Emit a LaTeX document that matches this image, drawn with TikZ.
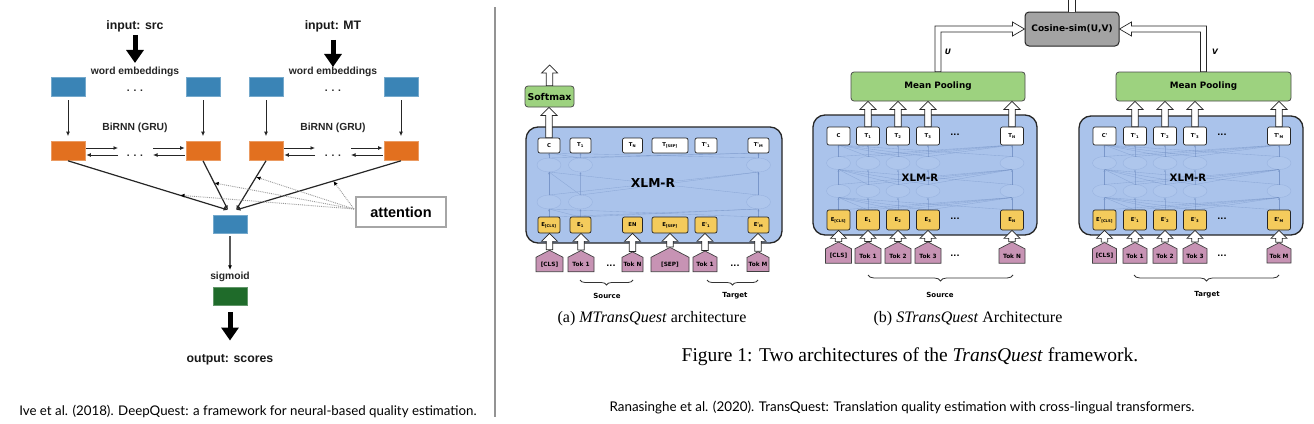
\documentclass[tikz,border=0pt]{standalone}
\usepackage{fontspec}
\setmainfont{Liberation Serif}
\newfontfamily\lsans{Liberation Sans}
\newfontfamily\dvs{DejaVu Sans}
\newfontfamily\capsans{Lato}
\usetikzlibrary{arrows.meta,shapes.symbols,decorations.pathreplacing,calc}
\definecolor{lblue}{HTML}{3A84B6}
\definecolor{lorange}{HTML}{E2701F}
\definecolor{lgreen}{HTML}{1F6B2A}
\definecolor{xblue}{HTML}{AAC3EB}
\definecolor{ygold}{HTML}{F4CB5C}
\definecolor{tpink}{HTML}{C793B4}
\definecolor{mgreen}{HTML}{9DD27F}
\definecolor{cgray}{HTML}{A3A3A3}
\definecolor{innerc}{HTML}{5F7FB8}
\definecolor{ellc}{HTML}{8AA6D6}
\definecolor{ellf}{HTML}{B3C9EE}
\newcommand\tqtiny{\dvs\bfseries\fontsize{5.3}{6}\selectfont}
\newcommand\tqtok{\dvs\bfseries\fontsize{5.8}{6}\selectfont}
\newcommand{\innernet}[8]{%
  \foreach \a in {#1} {
    \draw[ellst] (\a,#5) ellipse [x radius=12pt, y radius=#8pt];
    \draw[ellst] (\a,#6) ellipse [x radius=12pt, y radius=#8pt];
  }
  \foreach \a in {#1} {
    \foreach \ya/\yb in {#4/#5+#8, #5-#8/#6+#8, #6-#8/#7} {
      \draw[innerst,-{Latex[length=2.2pt,width=2.2pt]}] (\a,\ya) -- (\a,\yb);
      \draw[innerst] (\a,\ya) -- (#2,\yb);
      \draw[innerst] (\a,\ya) -- (#3,\yb);
    }
  }
}
\begin{document}
\begin{tikzpicture}[x=1pt,y=-1pt,
  lab/.style={font=\lsans\bfseries\fontsize{10.3}{12}\selectfont, text=black!85, inner sep=0pt},
  biglab/.style={font=\lsans\bfseries\fontsize{12.3}{14}\selectfont, text=black!90, inner sep=0pt},
  bluebox/.style={fill=lblue, draw=lblue!70!white, line width=0.6pt, minimum width=34pt, minimum height=19pt, inner sep=0pt},
  orbox/.style={bluebox, fill=lorange, draw=lorange!70!white},
  grbox/.style={bluebox, fill=lgreen, draw=lgreen!70!white, minimum height=18pt},
  sarr/.style={line width=1pt, black!85, -{Latex[length=4.5pt,width=4pt]}},
  thk/.style={line width=5pt, black, -{Triangle[length=13pt,width=17pt]}},
  datt/.style={densely dotted, gray!80, line width=0.9pt, -{Latex[length=4.5pt,width=4pt,color=black]}},
  wbox/.style={draw=black!85, fill=white, rounded corners=2pt, line width=0.7pt, inner sep=0pt, font=\tqtiny},
  ybox/.style={wbox, fill=ygold},
  tok/.style={shape=signal, signal to=north, signal from=nowhere, signal pointer angle=125,
     draw=black!75, fill=tpink, line width=0.7pt, inner sep=0pt, font=\tqtok, minimum height=19pt},
  xbox/.style={draw=black!85, fill=xblue, rounded corners=12pt, line width=1.3pt},
  gbox/.style={draw=black!70, fill=mgreen, rounded corners=3pt, line width=0.8pt, inner sep=0pt},
  innerst/.style={draw=innerc, opacity=0.4, line width=0.35pt},
  ellst/.style={draw=ellc, fill=ellf, opacity=0.55, line width=0.4pt},
  hup/.style={draw=black!85, fill=white, line width=0.7pt, line join=miter,
    to path={let \p1=(\tikztostart), \p2=(\tikztotarget) in
      (\x1-3.2pt,\y1) -- (\x1-3.2pt,\y2-8pt) -- (\x1-8pt,\y2-8pt) -- (\x1,\y2) --
      (\x1+8pt,\y2-8pt) -- (\x1+3.2pt,\y2-8pt) -- (\x1+3.2pt,\y1) -- cycle}},
  hollowst/.style={draw=black!85, fill=white, line width=0.7pt, line join=miter},
  tqlab/.style={font=\dvs\bfseries\fontsize{7}{8}\selectfont, inner sep=0pt},
  dotsl/.style={font=\dvs\bfseries\fontsize{8}{8}\selectfont, inner sep=0pt}
]
\useasboundingbox (0,0) rectangle (1314,423);
\fill[white] (0,0) rectangle (1314,423);

%% ================= Left panel (DeepQuest) =================
\node[biglab] (insrc) at (135,26) {input: src};
\node[biglab] (inmt) at (333,26) {input: MT};
\node[lab] (we1) at (135,72) {word embeddings};
\node[lab] (we2) at (333,72) {word embeddings};
\foreach \n/\x in {b1/68,b2/203,b3/266,b4/401} \node[bluebox] (\n) at (\x,86.5) {};
\node[lab] (bd1) at (135,91) {. . .};
\node[lab] (bd2) at (333,91) {. . .};
\node[lab] (gru1) at (135,128) {BiRNN (GRU)};
\node[lab] (gru2) at (333,128) {BiRNN (GRU)};
\foreach \n/\x in {o1/68,o2/203,o3/266,o4/401} \node[orbox] (\n) at (\x,151) {};
\node[lab] (od1) at (135,156) {. . .};
\node[lab] (od2) at (333,156) {. . .};

\draw[thk, shorten <=3pt, shorten >=4pt] (insrc.south) -- (we1.north);
\draw[thk, shorten <=8pt] (inmt.south) -- (we2.north);

\foreach \i in {1,2,3,4} \draw[sarr, shorten <=4pt, shorten >=5pt] (b\i.south) -- (o\i.north);

% bidirectional GRU arrows
\coordinate (r1u) at (118,148); \coordinate (r1d) at (118,155);
\coordinate (l2u) at (153,148); \coordinate (l2d) at (153,155);
\coordinate (r3u) at (315,148); \coordinate (r3d) at (315,155);
\coordinate (l4u) at (351,148); \coordinate (l4d) at (351,155);
\draw[sarr, shorten <=1pt] (o1.east |- r1u) -- (r1u);
\draw[sarr, shorten >=1pt] (r1d) -- (o1.east |- r1d);
\draw[sarr, shorten >=1pt] (l2u) -- (o2.west |- l2u);
\draw[sarr, shorten <=1pt] (o2.west |- l2d) -- (l2d);
\draw[sarr, shorten <=1pt] (o3.east |- r3u) -- (r3u);
\draw[sarr, shorten >=1pt] (r3d) -- (o3.east |- r3d);
\draw[sarr, shorten >=1pt] (l4u) -- (o4.west |- l4u);
\draw[sarr, shorten <=1pt] (o4.west |- l4d) -- (l4d);

% hidden state and attention
\node[bluebox, minimum height=18pt] (hb) at (230,224) {};
\coordinate (c1) at (228,210);
\coordinate (c2) at (236,210);
\draw[sarr, line width=1.2pt] (o1.south) -- coordinate[pos=0.70] (m1) (c1);
\draw[sarr, line width=1.2pt] (o2.south) -- coordinate[pos=0.45] (m2) (c1);
\draw[sarr, line width=1.2pt] (o3.south) -- coordinate[pos=0.33] (m3) (c2);
\draw[sarr, line width=1.2pt] (o4.south) -- coordinate[pos=0.41] (m4) (c2);
\node[draw=gray!70, line width=1.2pt, fill=white, minimum width=90pt, minimum height=30pt,
      font=\lsans\bfseries\fontsize{14.5}{16}\selectfont, inner sep=0pt] (att) at (401,212) {attention};
\coordinate (attw) at (354,209);
\foreach \m in {m1,m2,m3,m4} \draw[datt] (attw) -- (\m);

\node[lab] (sig) at (230,277) {sigmoid};
\draw[line width=1.2pt, black!65, -{Latex[length=4.5pt,width=4pt,color=black]}, shorten <=3pt, shorten >=2pt] (hb.south) -- (sig.north);
\node[grbox] (gr) at (230,296) {};
\node[biglab] (outs) at (230,360) {output: scores};
\draw[thk, shorten <=7pt, shorten >=14pt] (gr.south) -- (outs.north);

\node[font=\capsans\fontsize{13.3}{15}\selectfont, inner sep=0pt] (cap1) at (248,411)
  {Ive et al. (2018). DeepQuest: a framework for neural-based quality estimation.};

\draw[gray!85, line width=1.5pt] (495,7) -- (495,417);

%% ================= MTransQuest =================
\node[xbox, minimum width=256pt, minimum height=116pt] (xa) at (654,185) {};
\innernet{549,580.5,758.5}{549}{758.5}{217}{202}{165}{153}{7}
\node[font=\dvs\bfseries\fontsize{12.3}{13}\selectfont, inner sep=0pt] (xal) at (653,183) {XLM-R};
\foreach \i/\x/\w/\lbA/\lbB/\kx/\kw/\lbC in {
  1/549/22/{C}/{E\textsubscript{[CLS]}}/549.5/27/{[CLS]},
  2/580.5/21/{T\textsubscript{1}}/{E\textsubscript{1}}/581/26/{Tok 1},
  3/632.5/20/{T\textsubscript{N}}/{EN}/632.5/21/{Tok N},
  4/670/36/{T\textsubscript{[SEP]}}/{E\textsubscript{[SEP]}}/670/38/{[SEP]},
  5/706/22/{T'\textsubscript{1}}/{E'\textsubscript{1}}/705/24/{Tok 1},
  6/758.5/21/{T'\textsubscript{M}}/{E'\textsubscript{M}}/758/22/{Tok M}} {
  \node[wbox, minimum width=\w pt, minimum height=15pt] (mt\i) at (\x,145.5) {\lbA};
  \node[ybox, minimum width=\w pt, minimum height=16pt] (me\i) at (\x,225) {\lbB};
  \node[tok, minimum width=\kw pt] (mk\i) at (\kx,264.5) {\lbC};
}
\foreach \i in {1,...,6} \draw[hup] (mk\i.north) to (me\i.south);
\node[dotsl] (mkd1) at (611,266) {...};
\node[dotsl] (mkd2) at (735,266) {...};
\node[gbox, minimum width=49pt, minimum height=21pt, font=\dvs\bfseries\fontsize{9.4}{10}\selectfont] (sm) at (549.5,96.5) {Softmax};
\coordinate (smtop) at (549.5,65);
\draw[hup] (mt1.north) to (sm.south);
\draw[hup] (sm.north) to (smtop);
\draw[line width=0.8pt, black!80, decorate, decoration={brace, mirror, amplitude=5pt}] (580,280) -- (633,280);
\draw[line width=0.8pt, black!80, decorate, decoration={brace, mirror, amplitude=5pt}] (707,280) -- (758,280);
\node[tqlab] (srcA) at (607,296) {Source};
\node[tqlab] (tgtA) at (735,296) {Target};
\node[font=\fontsize{16}{18}\selectfont, inner sep=0pt] (capa) at (652,319) {(a) \textit{MTransQuest} architecture};

%% ================= STransQuest =================
\node[xbox, minimum width=224pt, minimum height=120pt] (xl) at (925,175) {};
\node[xbox, minimum width=224pt, minimum height=119pt] (xr) at (1191,175.5) {};
\innernet{838.5,868,898,928,1012}{838.5}{1012}{210}{191}{163}{145}{6.5}
\innernet{1104.5,1135,1165,1195,1279}{1104.5}{1279}{210}{191}{163}{145}{6.5}
\node[font=\dvs\bfseries\fontsize{10.2}{11}\selectfont, inner sep=0pt] (xll) at (920,178) {XLM-R};
\node[font=\dvs\bfseries\fontsize{10.2}{11}\selectfont, inner sep=0pt] (xrl) at (1188,178) {XLM-R};
\foreach \i/\x/\lbA/\lbB/\lbC in {
  1/838.5/{C}/{E\textsubscript{[CLS]}}/{[CLS]},
  2/868/{T\textsubscript{1}}/{E\textsubscript{1}}/{Tok 1},
  3/898/{T\textsubscript{2}}/{E\textsubscript{2}}/{Tok 2},
  4/928/{T\textsubscript{3}}/{E\textsubscript{3}}/{Tok 3},
  5/1012/{T\textsubscript{N}}/{E\textsubscript{N}}/{Tok N}} {
  \node[wbox, minimum width=23pt, minimum height=18pt] (lt\i) at (\x,136) {\lbA};
  \node[ybox, minimum width=23pt, minimum height=20pt] (le\i) at (\x,220) {\lbB};
  \node[tok, minimum width=26pt] (lk\i) at (\x,256) {\lbC};
}
\foreach \i/\x/\lbA/\lbB/\lbC in {
  1/1104.5/{C'}/{E'\textsubscript{[CLS]}}/{[CLS]},
  2/1135/{T'\textsubscript{1}}/{E'\textsubscript{1}}/{Tok 1},
  3/1165/{T'\textsubscript{2}}/{E'\textsubscript{2}}/{Tok 2},
  4/1195/{T'\textsubscript{3}}/{E'\textsubscript{3}}/{Tok 3},
  5/1279/{T'\textsubscript{M}}/{E'\textsubscript{M}}/{Tok M}} {
  \node[wbox, minimum width=23pt, minimum height=18pt] (rt\i) at (\x,136) {\lbA};
  \node[ybox, minimum width=23pt, minimum height=20pt] (re\i) at (\x,220) {\lbB};
  \node[tok, minimum width=24pt] (rk\i) at (\x,256) {\lbC};
}
\foreach \s/\x in {l/955,r/1222} {
  \node[dotsl] (\s td) at (\x,135) {...};
  \node[dotsl] (\s ed) at (\x,219) {...};
  \node[dotsl] (\s kd) at (\x,256) {...};
}
\foreach \i in {1,...,5} {
  \draw[hup] (lk\i.north) to (le\i.south);
  \draw[hup] (rk\i.north) to (re\i.south);
}
\node[gbox, minimum width=174pt, minimum height=29pt, font=\dvs\bfseries\fontsize{8.8}{10}\selectfont] (mpL) at (938,86.5) {Mean Pooling};
\node[gbox, minimum width=175pt, minimum height=29pt, font=\dvs\bfseries\fontsize{8.8}{10}\selectfont] (mpR) at (1203.5,86.5) {Mean Pooling};
\foreach \i in {2,3,4,5} {
  \draw[hup] (lt\i.north) to (mpL.south);
  \draw[hup] (rt\i.north) to (mpR.south);
}
\node[draw=black!85, fill=cgray, rounded corners=4pt, line width=1pt, minimum width=94pt, minimum height=34pt,
      inner sep=0pt, font=\dvs\bfseries\fontsize{9}{10}\selectfont] (cos) at (1072,29) {Cosine-sim(U,V)};
\coordinate (ctop) at (1072.5,-3);
\draw[hollowst] let \p1=(cos.north), \p2=(ctop) in
  (\x1-3.2pt,\y1) -- (\x1-3.2pt,\y2) -- (\x1+3.2pt,\y2) -- (\x1+3.2pt,\y1);
\draw[hollowst] let \p1=(mpL.north), \p2=(cos.west) in
  (\x1-3pt,\y1) -- (\x1-3pt,\y2+3pt) -- (\x2-12pt,\y2+3pt) -- (\x2-12pt,\y2+7pt) -- (\x2,\y2) --
  (\x2-12pt,\y2-7pt) -- (\x2-12pt,\y2-3pt) -- (\x1+3pt,\y2-3pt) -- (\x1+3pt,\y1) -- cycle;
\draw[hollowst] let \p1=(mpR.north), \p2=(cos.east) in
  (\x1+3pt,\y1) -- (\x1+3pt,\y2+3pt) -- (\x2+12pt,\y2+3pt) -- (\x2+12pt,\y2+7pt) -- (\x2,\y2) --
  (\x2+12pt,\y2-7pt) -- (\x2+12pt,\y2-3pt) -- (\x1-3pt,\y2-3pt) -- (\x1-3pt,\y1) -- cycle;
\node[font=\dvs\bfseries\itshape\fontsize{7.5}{9}\selectfont, inner sep=0pt] (ulab) at (948,52) {U};
\node[font=\dvs\bfseries\itshape\fontsize{7.5}{9}\selectfont, inner sep=0pt] (vlab) at (1215,52) {V};
\draw[line width=0.8pt, black!80, decorate, decoration={brace, mirror, amplitude=6pt}] (868,275) -- (1013,275);
\draw[line width=0.8pt, black!80, decorate, decoration={brace, mirror, amplitude=6pt}] (1134,275) -- (1279,275);
\node[tqlab] (srcB) at (940,295) {Source};
\node[tqlab] (tgtB) at (1207,295) {Target};
\node[font=\fontsize{16}{18}\selectfont, inner sep=0pt] (capb) at (968,319) {(b) \textit{STransQuest} Architecture};
\node[font=\fontsize{19.5}{22}\selectfont, inner sep=0pt] (fig) at (910,357) {Figure 1: Two architectures of the \textit{TransQuest} framework.};
\node[font=\capsans\fontsize{13.4}{15}\selectfont, inner sep=0pt] (cap2) at (902,408)
  {Ranasinghe et al. (2020). TransQuest: Translation quality estimation with cross-lingual transformers.};
\end{tikzpicture}
\end{document}
